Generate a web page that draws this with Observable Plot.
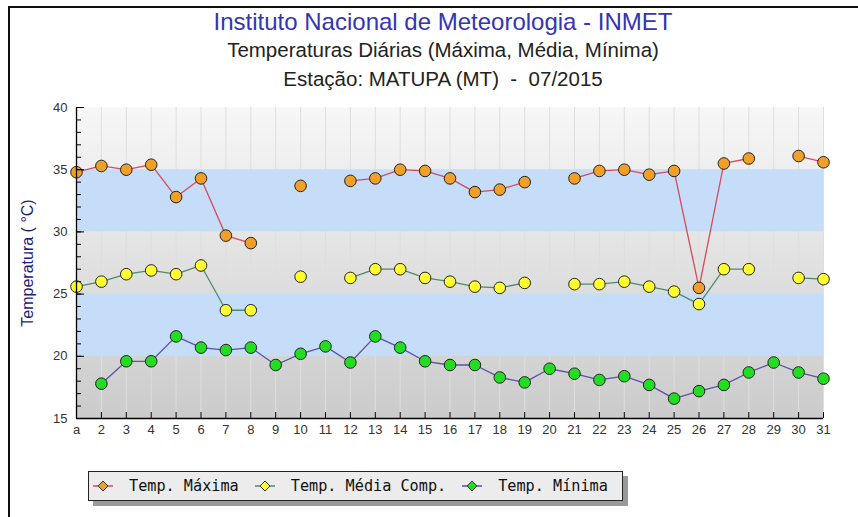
<!DOCTYPE html>
<html>
<head>
<meta charset="utf-8">
<script src="https://cdn.jsdelivr.net/npm/d3@7"></script>
<script src="https://cdn.jsdelivr.net/npm/@observablehq/plot@0.6"></script>
<style>
  body { margin: 0; background: #fff; }
  #wrap { position: relative; width: 858px; height: 517px; overflow: hidden; background: #fff; }
  #border { position: absolute; left: 8px; top: 6px; width: 900px; height: 600px; border-top: 2px solid #111; border-left: 2px solid #111; pointer-events: none; }
  #chart { position: absolute; left: 0; top: 0; }
  #legend { position: absolute; left: 88px; top: 471px; height: 30px; box-sizing: border-box; border: 1px solid #222; background: #ececec; box-shadow: 5px 5px 0 #9a9a9a; display: flex; align-items: center; padding: 0 14px 0 4px; font-family: "DejaVu Sans Mono", monospace; font-size: 15.2px; color: #111; white-space: nowrap; }
  #legend .mk { display: block; }
  #legend .lbl { margin-left: 16px; margin-right: 16px; }
  #legend .lbl:last-child { margin-right: 0; }
</style>
</head>
<body>
<div id="wrap">
  <div id="chart"></div>
  <div id="border"></div>
  <div id="legend"></div>
</div>
<script>
// ---- data ----
const days = d3.range(1, 32);
const xLabels = ["a","2","3","4","5","6","7","8","9","10","11","12","13","14","15","16","17","18","19","20","21","22","23","24","25","26","27","28","29","30","31"];
const tMax = [34.8,35.3,35.0,35.4,32.8,34.3,29.7,29.1,null,33.7,null,34.1,34.3,35.0,34.9,34.3,33.2,33.4,34.0,null,34.3,34.9,35.0,34.6,34.9,25.5,35.5,35.9,null,36.1,35.6];
const tMed = [25.6,26.0,26.6,26.9,26.6,27.3,23.7,23.7,null,26.4,null,26.3,27.0,27.0,26.3,26.0,25.6,25.5,25.9,null,25.8,25.8,26.0,25.6,25.2,24.2,27.0,27.0,null,26.3,26.2];
const tMin = [null,17.8,19.6,19.6,21.6,20.7,20.5,20.7,19.3,20.2,20.8,19.5,21.6,20.7,19.6,19.3,19.3,18.3,17.9,19.0,18.6,18.1,18.4,17.7,16.6,17.2,17.7,18.7,19.5,18.7,18.2];
const yMajorTicks = [15, 20, 25, 30, 35, 40];
const yMinorTicks = d3.range(15, 41);
const blueBands = [[30, 35], [20, 25]];
const seriesNames = ["Temp. Máxima", "Temp. Média Comp.", "Temp. Mínima"];
const titles = ["Instituto Nacional de Meteorologia - INMET", "Temperaturas Diárias (Máxima, Média, Mínima)", "Estação: MATUPA (MT)  -  07/2015"];
const yLabel = "Temperatura ( °C)";

const series = [
  {name: seriesNames[0], values: tMax, line: "#d84a5e", fill: "#f0a028"},
  {name: seriesNames[1], values: tMed, line: "#4f8a6a", fill: "#ffff30"},
  {name: seriesNames[2], values: tMin, line: "#5a52a8", fill: "#22dd22"}
];

const gradientDefs = () => {
  const defs = d3.create("svg:defs");
  const g = defs.append("linearGradient").attr("id", "bgGrad").attr("x1", 0).attr("y1", 0).attr("x2", 0).attr("y2", 1);
  g.append("stop").attr("offset", "0%").attr("stop-color", "#f7f7f7");
  g.append("stop").attr("offset", "100%").attr("stop-color", "#cbcbcb");
  return defs.node();
};

const marks = [
  gradientDefs,
  Plot.frame({fill: "url(#bgGrad)", stroke: null}),
  Plot.ruleX(days, {stroke: "#dedede", strokeWidth: 1}),
  Plot.rect(blueBands, {y1: d => d[0], y2: d => d[1], fill: "#c6ddf9"}),
];
for (const s of series) {
  marks.push(Plot.line(days, {x: d => d, y: (d, i) => s.values[i], stroke: s.line, strokeWidth: 1.3}));
}
for (const s of series) {
  marks.push(Plot.dot(days, {x: d => d, y: (d, i) => s.values[i], r: 5.8, fill: s.fill, stroke: "#222", strokeWidth: 1}));
}
marks.push(
  Plot.ruleX([1], {stroke: "#000", strokeWidth: 1.3}),
  Plot.ruleY([15], {stroke: "#000", strokeWidth: 1.3}),
  Plot.axisY({ticks: yMinorTicks, tickSize: -5, tickFormat: () => "", label: null, stroke: "#000"}),
  Plot.axisY({ticks: yMajorTicks, tickSize: -8, tickPadding: 17, label: null, fontSize: 13, fill: "#333", stroke: "#000"}),
  Plot.axisX({ticks: days, tickSize: -6, tickPadding: 12, tickFormat: d => xLabels[d - 1], label: null, fontSize: 13, fill: "#333", stroke: "#000"}),
  Plot.text([yLabel], {frameAnchor: "left", textAnchor: "middle", rotate: -90, dx: -49, fill: "#1c1c7a", fontSize: 16}),
  Plot.text([titles[0]], {frameAnchor: "top", dx: -7, dy: -85, fill: "#3434b4", fontSize: 24, lineAnchor: "middle"}),
  Plot.text([titles[1]], {frameAnchor: "top", dx: -7, dy: -57, fill: "#222", fontSize: 20.5, lineAnchor: "middle"}),
  Plot.text([titles[2]], {frameAnchor: "top", dx: -7, dy: -28, fill: "#222", fontSize: 20.5, lineAnchor: "middle"})
);

const chart = Plot.plot({
  width: 858,
  height: 517,
  marginTop: 107,
  marginBottom: 99,
  marginLeft: 76,
  marginRight: 35,
  x: {domain: [1, 31]},
  y: {domain: [15, 40]},
  style: {fontFamily: "'Liberation Sans', Arial, sans-serif", fontSize: "13px", background: "transparent", overflow: "visible"},
  marks
});
document.getElementById("chart").appendChild(chart);

// ---- legend ----
const legend = d3.select("#legend");
series.forEach((s) => {
  const svg = legend.append("svg").attr("class", "mk").attr("width", 20).attr("height", 14);
  svg.append("line").attr("x1", 0).attr("x2", 20).attr("y1", 7).attr("y2", 7).attr("stroke", s.line).attr("stroke-width", 1.5);
  svg.append("path").attr("d", "M10,2 L15,7 L10,12 L5,7 Z").attr("fill", s.fill).attr("stroke", "#333").attr("stroke-width", 1);
  legend.append("span").attr("class", "lbl").text(s.name);
});
</script>
</body>
</html>
